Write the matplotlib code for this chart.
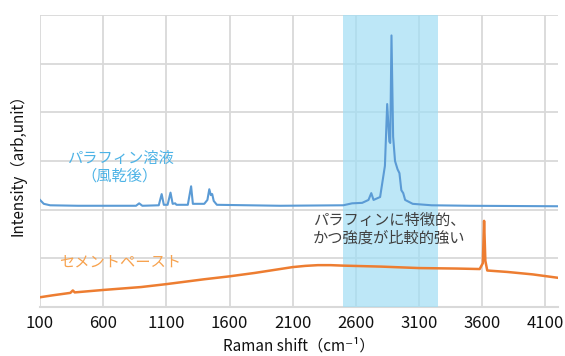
import matplotlib
matplotlib.use("Agg")
import matplotlib.pyplot as plt
import numpy as np

plt.rcParams['font.family'] = ['Noto Sans CJK JP', 'DejaVu Sans']

# Paraffin solution (air-dried) spectrum
paraffin_x = [100, 130, 180, 400, 860, 885, 910, 1040, 1063, 1080, 1110, 1133, 1150, 1170,
              1180, 1270, 1296, 1310, 1400, 1425, 1440, 1452, 1463, 1475, 1500, 2000, 2500,
              2570, 2650, 2700, 2722, 2740, 2792, 2830, 2848, 2865, 2872, 2882, 2895, 2910,
              2930, 2945, 2960, 2975, 2990, 3050, 3200, 3500, 4200]
paraffin_y = [2.20, 2.12, 2.09, 2.08, 2.08, 2.13, 2.08, 2.09, 2.32, 2.10, 2.10, 2.35, 2.12, 2.13,
              2.10, 2.10, 2.48, 2.12, 2.12, 2.20, 2.42, 2.30, 2.32, 2.18, 2.10, 2.08, 2.09,
              2.13, 2.14, 2.20, 2.34, 2.20, 2.26, 2.90, 4.17, 3.40, 3.37, 5.58, 3.50, 3.00,
              2.83, 2.75, 2.40, 2.34, 2.20, 2.12, 2.09, 2.08, 2.07]

# Cement paste spectrum
cement_x = [100, 200, 340, 360, 375, 600, 900, 1100, 1400, 1600, 1800, 2000, 2100, 2200,
            2300, 2400, 2500, 2800, 3100, 3400, 3580, 3605, 3615, 3625, 3640, 3800, 4000, 4200]
cement_y = [0.20, 0.24, 0.29, 0.34, 0.30, 0.35, 0.41, 0.47, 0.57, 0.63, 0.70, 0.78, 0.82, 0.845,
            0.86, 0.86, 0.85, 0.83, 0.80, 0.79, 0.78, 0.90, 1.77, 0.95, 0.75, 0.72, 0.67, 0.60]

xticks = [100, 600, 1100, 1600, 2100, 2600, 3100, 3600, 4100]
highlight = (2500, 3250)

grid_color = '#D9D9D9'

fig = plt.figure(figsize=(5.65, 3.56), dpi=100)
ax = fig.add_axes([40/565, 49/356, 518/565, 292/356])
ax.set_xlim(100, 4200)
ax.set_ylim(0, 6)

ax.set_xticks(xticks)
ax.set_yticks(np.arange(1, 7, 1))
ax.grid(True, color=grid_color, lw=1.3)
ax.set_axisbelow(True)
ax.axhline(0, color=grid_color, lw=1.5, zorder=0.2, clip_on=False)
ax.axvspan(highlight[0], highlight[1], color='#A1DEF5', alpha=0.7, zorder=1, lw=0)
ax.tick_params(axis='both', length=0)
ax.set_yticklabels([])
ax.tick_params(axis='x', labelsize=12, pad=6, labelcolor='#111111')
for lab in ax.get_xticklabels():
    lab.set_bbox(dict(facecolor='white', edgecolor='none', pad=3))
for s in ax.spines.values():
    s.set_visible(False)

ax.plot(paraffin_x, paraffin_y, color='#5B9BD5', lw=1.5, zorder=3)
ax.plot(cement_x, cement_y, color='#ED7D31', lw=1.8, zorder=3)

ax.text(733, 3.06, 'パラフィン溶液', color='#4DB3E6', fontsize=11, ha='center', va='center')
ax.text(733, 2.69, '（風乾後）', color='#4DB3E6', fontsize=11, ha='center', va='center')
ax.text(733, 0.92, 'セメントペースト', color='#F7A24E', fontsize=11, ha='center', va='center')
ax.text(2262, 1.60, 'パラフィンに特徴的、\nかつ強度が比較的強い', color='#404040', fontsize=11,
        ha='left', va='center', linespacing=1.1, zorder=4)

ax.set_xlabel('Raman shift（cm⁻¹）', fontsize=11, labelpad=4, color='#111111')
ax.set_ylabel('Intensity（arb,unit）', fontsize=11, labelpad=6, color='#111111')

fig.savefig('out.png', dpi=100)
